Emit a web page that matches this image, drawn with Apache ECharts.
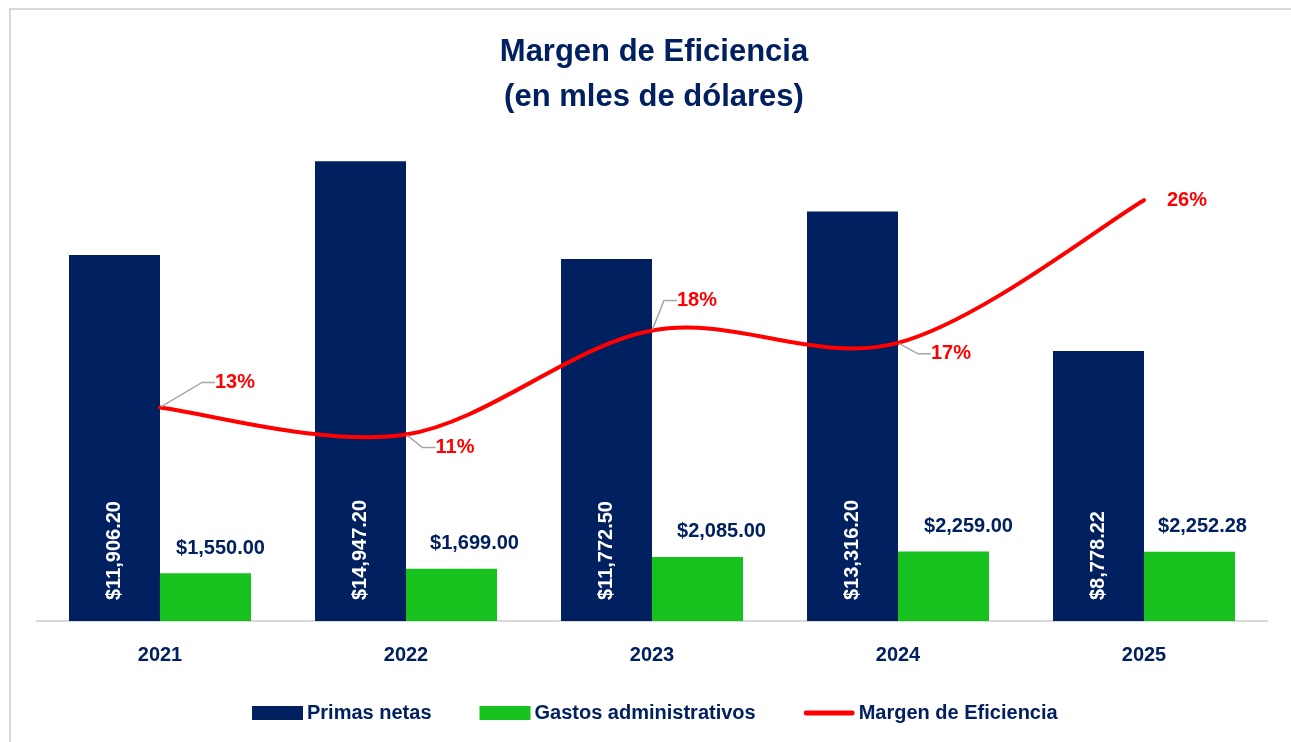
<!DOCTYPE html>
<html>
<head>
<meta charset="utf-8">
<script src="https://cdn.jsdelivr.net/npm/echarts@6/dist/echarts.min.js"></script>
<style>
  html, body { margin: 0; padding: 0; background: #fff; overflow: hidden; }
  #frame { position: absolute; left: 9px; top: 8px; width: 1500px; height: 900px;
           border-left: 2px solid #d9d9d9; border-top: 2px solid #d9d9d9; }
  #chart { position: absolute; left: 0; top: 0; width: 1291px; height: 742px; }
</style>
</head>
<body>
<div id="frame"></div>
<div id="chart"></div>
<script>
// datos
var years = ['2021', '2022', '2023', '2024', '2025'];
var primasNetas = [11906.20, 14947.20, 11772.50, 13316.20, 8778.22];
var gastosAdmin = [1550.00, 1699.00, 2085.00, 2259.00, 2252.28];
var margen = [0.1302, 0.1137, 0.1771, 0.1696, 0.2566];

// desplazamiento de las etiquetas (px)
var labelShift = [[66, -25], [45, 13], [41, -30], [49, 11], [39, 0]];
var labelPad = [[0, 0, 0, 18], [0, 0, 0, 8], [0, 0, 0, 8], [0, 0, 0, 8], [0, 0, 0, 8]];
var gastosShift = [15, 23, 24, 25, 13];

var NAVY = '#002060';
var GREEN = '#17c21e';
var RED = '#ff0000';

function money(v) {
  return '$' + v.toLocaleString('en-US', { minimumFractionDigits: 2, maximumFractionDigits: 2 });
}

var gastosData = gastosAdmin.map(function (v, i) {
  return { value: v, label: { offset: [gastosShift[i], 0] } };
});
var margenData = margen.map(function (v, i) {
  var item = { value: v, label: { padding: labelPad[i] } };
  // el último punto no lleva línea guía
  if (i === margen.length - 1) item.labelLine = { show: false };
  return item;
});
var curveData = margen.map(function (v, i) { return [i, v]; });

// curva suavizada tipo Excel (Catmull-Rom, tramo i -> i+1)
function renderCurve(params, api) {
  var i = params.dataIndex;
  var n = margen.length;
  if (i >= n - 1) return null;
  function pt(k) {
    k = Math.max(0, Math.min(n - 1, k));
    return api.coord([k, margen[k]]);
  }
  var p0 = pt(i - 1), p1 = pt(i), p2 = pt(i + 1), p3 = pt(i + 2);
  return {
    type: 'bezierCurve',
    shape: {
      x1: p1[0], y1: p1[1],
      x2: p2[0], y2: p2[1],
      cpx1: p1[0] + (p2[0] - p0[0]) / 6, cpy1: p1[1] + (p2[1] - p0[1]) / 6,
      cpx2: p2[0] - (p3[0] - p1[0]) / 6, cpy2: p2[1] - (p3[1] - p1[1]) / 6
    },
    style: { stroke: RED, lineWidth: 4, fill: null, lineCap: 'round' }
  };
}

var chart = echarts.init(document.getElementById('chart'), null, { renderer: 'canvas' });

var option = {
  backgroundColor: 'transparent',
  animation: false,
  title: {
    text: 'Margen de Eficiencia\n(en mles de dólares)',
    left: 649,
    textAlign: 'center',
    top: 25,
    textStyle: {
      fontFamily: 'Liberation Sans',
      fontWeight: 'bold',
      fontSize: 31,
      lineHeight: 45,
      color: NAVY
    }
  },
  legend: {
    bottom: 14,
    left: 247,
    itemWidth: 51,
    itemHeight: 14,
    itemGap: 48,
    textStyle: {
      fontFamily: 'Liberation Sans',
      fontWeight: 'bold',
      fontSize: 20,
      color: NAVY,
      padding: [0, 0, 0, -1]
    },
    data: [
      { name: 'Primas netas', icon: 'rect' },
      { name: 'Gastos administrativos', icon: 'rect' },
      { name: 'Margen de Eficiencia', icon: 'path://M2,0 L98,0 A2,2 0 0 1 98,10 L2,10 A2,2 0 0 1 2,0 Z', itemStyle: { color: RED } }
    ]
  },
  grid: { left: 37, right: 24, top: 129, bottom: 121 },
  xAxis: {
    type: 'category',
    data: years,
    axisLine: { lineStyle: { color: '#d9d9d9', width: 2 } },
    axisTick: { show: false },
    axisLabel: {
      margin: 24,
      fontFamily: 'Liberation Sans',
      fontWeight: 'bold',
      fontSize: 20,
      color: NAVY
    }
  },
  yAxis: [
    { type: 'value', min: 0, max: 16000, show: false, splitLine: { show: false } },
    { type: 'value', min: 0, max: 0.30, show: false, splitLine: { show: false } }
  ],
  series: [
    {
      name: 'Primas netas',
      type: 'bar',
      data: primasNetas,
      barWidth: 91,
      barGap: '0%',
      itemStyle: { color: NAVY },
      label: {
        show: true,
        position: 'insideBottom',
        distance: 21,
        rotate: 90,
        align: 'left',
        verticalAlign: 'middle',
        fontFamily: 'Liberation Sans',
        fontWeight: 'bold',
        fontSize: 20,
        color: '#ffffff',
        formatter: function (p) { return money(p.value); }
      }
    },
    {
      name: 'Gastos administrativos',
      type: 'bar',
      data: gastosData,
      barWidth: 91,
      itemStyle: { color: GREEN },
      label: {
        show: true,
        position: 'top',
        distance: 15,
        fontFamily: 'Liberation Sans',
        fontWeight: 'bold',
        fontSize: 20,
        color: NAVY,
        formatter: function (p) { return money(p.value); }
      }
    },
    {
      name: 'Margen de Eficiencia',
      type: 'line',
      yAxisIndex: 1,
      data: margenData,
      symbol: 'circle',
      symbolSize: 2,
      z: 4,
      itemStyle: { color: RED },
      lineStyle: { width: 0, opacity: 0 },
      label: {
        show: true,
        position: 'inside',
        fontFamily: 'Liberation Sans',
        fontWeight: 'bold',
        fontSize: 20,
        color: RED,
        formatter: function (p) { return Math.round(p.value * 100) + '%'; }
      },
      labelLine: {
        show: true,
        length2: 13,
        lineStyle: { color: '#a6a6a6', width: 1.5 }
      },
      labelLayout: function (p) {
        var s = labelShift[p.dataIndex];
        return { dx: s[0], dy: s[1] };
      }
    },
    {
      name: 'curva',
      type: 'custom',
      yAxisIndex: 1,
      data: curveData,
      encode: { x: 0, y: 1 },
      z: 3,
      silent: true,
      renderItem: renderCurve
    }
  ]
};

chart.setOption(option);
</script>
</body>
</html>
